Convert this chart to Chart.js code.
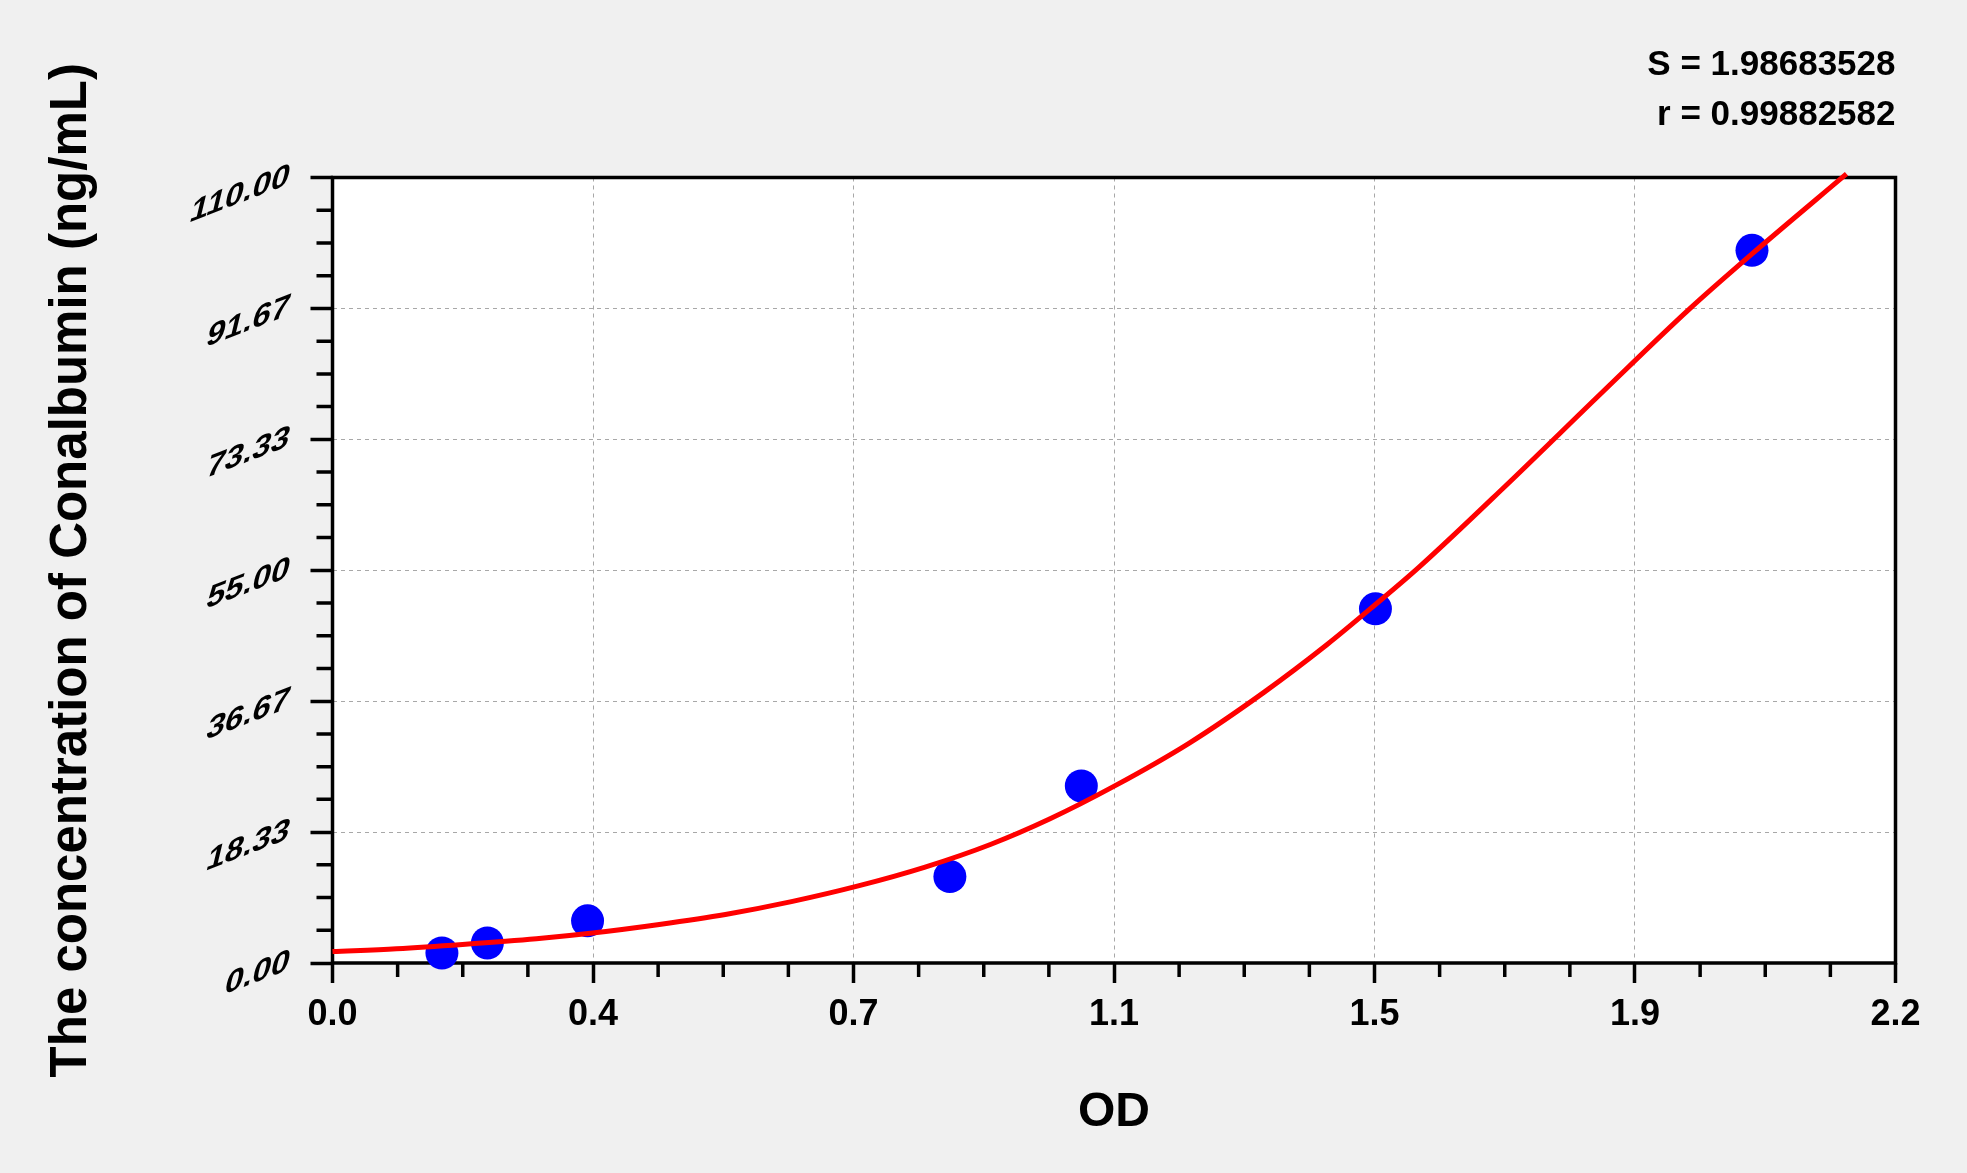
<!DOCTYPE html>
<html>
<head>
<meta charset="utf-8">
<script src="https://cdn.jsdelivr.net/npm/chart.js@4.4.0/dist/chart.umd.min.js"></script>
<style>
html,body{margin:0;padding:0;background:#f0f0f0;overflow:hidden}
canvas{display:block}
</style>
</head>
<body>
<canvas id="c" width="1967" height="1173" style="width:1967px;height:1173px"></canvas>
<script>
// ---- data ----
const odValues   = [0.154, 0.218, 0.359, 0.869, 1.054, 1.468, 1.998];
const concValues = [1.4, 2.8, 5.9, 12.1, 24.8, 49.6, 99.8];

const curveOD   = [0.000, 0.090, 0.183, 0.287, 0.366, 0.460, 0.553, 0.646, 0.740, 0.833, 0.926, 1.010, 1.101, 1.206, 1.311, 1.400, 1.468, 1.529, 1.651, 1.788, 1.909, 1.998, 2.131];
const curveConc = [1.6, 2.0, 2.6, 3.4, 4.2, 5.4, 6.8, 8.6, 10.8, 13.4, 16.6, 20.2, 24.8, 30.8, 37.9, 44.6, 50.2, 55.4, 66.8, 80.0, 91.5, 99.3, 110.5];

const xTickValues = [0, 0.36667, 0.73333, 1.1, 1.46667, 1.83333, 2.2];
const xTickLabels = ['0.0', '0.4', '0.7', '1.1', '1.5', '1.9', '2.2'];
const xMinorTicks = [0.09167, 0.18333, 0.275, 0.45833, 0.55, 0.64167, 0.825, 0.91667, 1.00833,
                     1.19167, 1.28333, 1.375, 1.55833, 1.65, 1.74167, 1.925, 2.01667, 2.10833];

const yTickValues = [0, 18.3333, 36.6667, 55, 73.3333, 91.6667, 110];
const yTickLabels = ['0.00', '18.33', '36.67', '55.00', '73.33', '91.67', '110.00'];
const yMinorTicks = [4.5833, 9.1667, 13.75, 22.9167, 27.5, 32.0833, 41.25, 45.8333, 50.4167,
                     59.5833, 64.1667, 68.75, 77.9167, 82.5, 87.0833, 96.25, 100.8333, 105.4167];

const statLines = ['S = 1.98683528', 'r = 0.99882582'];
const xTitle = 'OD';
const yTitle = 'The concentration of Conalbumin (ng/mL)';

// ---- rendering ----
const FONT = "'Liberation Sans', Arial, Helvetica, sans-serif";

const decor = {
  id: 'decor',
  beforeDraw(chart) {
    const {ctx, width, height, chartArea: a} = chart;
    ctx.save();
    ctx.fillStyle = '#f0f0f0';
    ctx.fillRect(0, 0, width, height);
    ctx.fillStyle = '#ffffff';
    ctx.fillRect(a.left, a.top, a.right - a.left, a.bottom - a.top);
    ctx.restore();
  },
  beforeDatasetsDraw(chart) {
    const {ctx, chartArea: a, scales: {x, y}} = chart;
    ctx.save();
    ctx.strokeStyle = '#000';
    ctx.lineWidth = 3.5;
    ctx.beginPath();
    xMinorTicks.forEach(v => {
      const px = x.getPixelForValue(v);
      ctx.moveTo(px, a.bottom);
      ctx.lineTo(px, a.bottom + 14);
    });
    yMinorTicks.forEach(v => {
      const py = y.getPixelForValue(v);
      ctx.moveTo(a.left, py);
      ctx.lineTo(a.left - 16, py);
    });
    ctx.stroke();
    ctx.strokeRect(a.left, a.top, a.right - a.left, a.bottom - a.top);

    // slanted y tick labels (baseline rising, strokes leaning)
    const rise = Math.tan(21 * Math.PI / 180);
    ctx.fillStyle = '#000';
    ctx.font = 'bold 33px ' + FONT;
    ctx.textAlign = 'right';
    ctx.textBaseline = 'middle';
    y.ticks.forEach((t, i) => {
      const py = y.getPixelForValue(t.value);
      ctx.save();
      ctx.translate(a.left - 43, py - 2);
      ctx.transform(1, -rise, -0.24, 1, 0, 0);
      ctx.fillText(yTickLabels[i], 0, 0);
      ctx.restore();
    });
    ctx.restore();
  }
};

new Chart(document.getElementById('c'), {
  type: 'scatter',
  data: {
    datasets: [
      {
        label: 'fit',
        data: curveOD.map((v, i) => ({x: v, y: curveConc[i]})),
        showLine: true,
        borderColor: '#ff0000',
        borderWidth: 5,
        pointRadius: 0,
        cubicInterpolationMode: 'monotone',
        clip: 6
      },
      {
        label: 'standards',
        data: odValues.map((v, i) => ({x: v, y: concValues[i]})),
        showLine: false,
        backgroundColor: '#0000ff',
        borderWidth: 0,
        pointRadius: 16.5,
        pointHoverRadius: 16.5,
        clip: false
      }
    ]
  },
  options: {
    responsive: false,
    animation: false,
    events: [],
    layout: {padding: {left: 0, right: 71.5, top: 0, bottom: 0}},
    plugins: {
      legend: {display: false},
      tooltip: {enabled: false},
      title: {
        display: true,
        text: statLines,
        align: 'end',
        color: '#000',
        font: {family: FONT, size: 35, weight: 'bold', lineHeight: 50 / 35},
        padding: {top: 40.5, bottom: 37}
      }
    },
    scales: {
      x: {
        type: 'linear',
        min: 0,
        max: 2.2,
        afterBuildTicks: s => { s.ticks = xTickValues.map(v => ({value: v})); },
        afterFit: s => { s.height = 210; s.paddingLeft = 0; s.paddingRight = 0; },
        ticks: {
          callback: (v, i) => xTickLabels[i],
          autoSkip: false,
          maxRotation: 0,
          minRotation: 0,
          padding: 10,
          color: '#000',
          font: {family: FONT, size: 36, weight: 'bold'}
        },
        grid: {color: '#a8a8a8', lineWidth: 1, tickColor: '#000', tickWidth: 3.5, tickLength: 20},
        border: {display: false, dash: [4, 4]},
        title: {
          display: true,
          text: xTitle,
          color: '#000',
          font: {family: FONT, size: 48, weight: 'bold'},
          padding: {top: 0, bottom: 31}
        }
      },
      y: {
        type: 'linear',
        min: 0,
        max: 110,
        afterBuildTicks: s => { s.ticks = yTickValues.map(v => ({value: v})); },
        afterFit: s => { s.width = 332.5; s.paddingTop = 0; s.paddingBottom = 0; },
        ticks: {
          display: false,
          callback: (v, i) => yTickLabels[i],
          autoSkip: false
        },
        grid: {color: '#a8a8a8', lineWidth: 1, tickColor: '#000', tickWidth: 3.5, tickLength: 22},
        border: {display: false, dash: [4, 4]},
        title: {
          display: true,
          text: yTitle,
          color: '#000',
          font: {family: FONT, size: 51, weight: 'bold'},
          padding: {top: 41, bottom: 0}
        }
      }
    }
  },
  plugins: [decor]
});
</script>
</body>
</html>
